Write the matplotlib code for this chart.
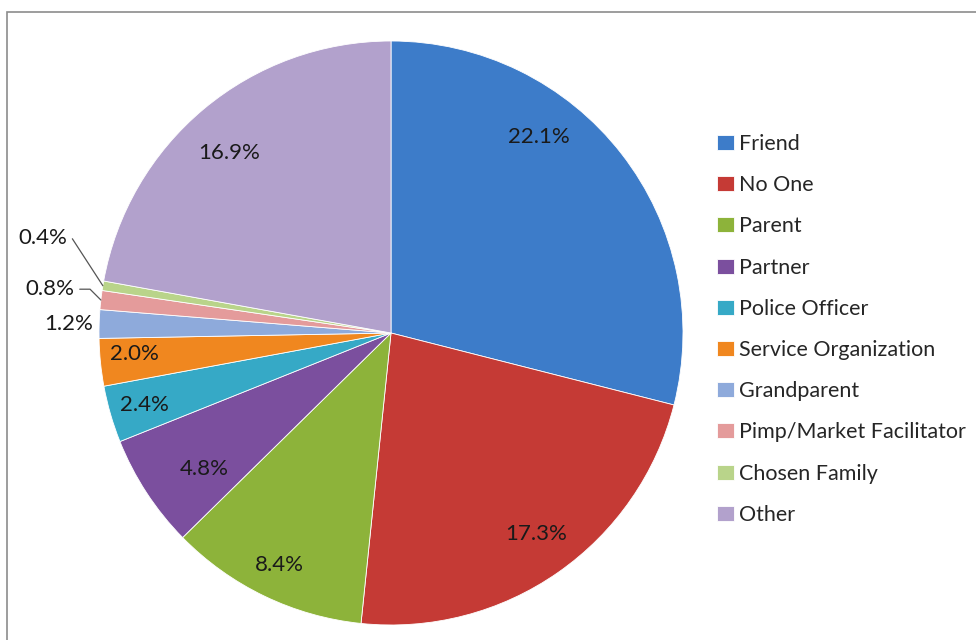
import numpy as np
import matplotlib.pyplot as plt
from matplotlib.patches import Rectangle

plt.rcParams['font.family'] = ['Lato', 'DejaVu Sans']

# data (percent of respondents)
categories = ['Friend', 'No One', 'Parent', 'Partner', 'Police Officer',
              'Service Organization', 'Grandparent', 'Pimp/Market Facilitator',
              'Chosen Family', 'Other']
values = [22.1, 17.3, 8.4, 4.8, 2.4, 2.0, 1.2, 0.8, 0.4, 16.9]
labels = ['22.1%', '17.3%', '8.4%', '4.8%', '2.4%', '2.0%', '1.2%', '0.8%', '0.4%', '16.9%']

colors = ['#3d7cc9', '#c53a35', '#8db33a', '#7b4f9e', '#36a9c6',
          '#f0871f', '#8eaadb', '#e49b9b', '#b9d48a', '#b2a1cc']

fig = plt.figure(figsize=(9.76, 6.4), dpi=100)
ax = fig.add_axes([(391 - 292) / 976, (640 - 333 - 292) / 640, 584 / 976, 584 / 640])

wedges, _ = ax.pie(values, colors=colors, startangle=90, counterclock=False,
                   wedgeprops=dict(edgecolor='white', linewidth=0.6))
ax.set_xlim(-1, 1)
ax.set_ylim(-1, 1)
ax.set_aspect('equal')

fs = 16

# inside labels: radius and small angle shift per slice
label_r = [0.84, 0.85, 0.88, 0.79, 0.88, 0.88, None, None, None, 0.83]
label_shift = [15, 1, 0, 3, 0, -1, 0, 0, 0, 2]
for i, w in enumerate(wedges):
    mid = np.deg2rad((w.theta1 + w.theta2) / 2 + label_shift[i])
    if label_r[i] is not None:
        ax.text(label_r[i] * np.cos(mid), label_r[i] * np.sin(mid), labels[i],
                ha='center', va='center', fontsize=fs, color='#1a1a1a')

# small slices: labels outside
mid = np.deg2rad((wedges[6].theta1 + wedges[6].theta2) / 2)
ax.text(1.02 * np.cos(mid), 1.02 * np.sin(mid), labels[6], ha='right', va='center',
        fontsize=fs, color='#1a1a1a')
outside = {7: ((-1.085, 0.15), 135), 8: ((-1.11, 0.325), 123)}
for i, (pos, angB) in outside.items():
    mid = np.deg2rad((wedges[i].theta1 + wedges[i].theta2) / 2)
    ax.annotate(labels[i], xy=(np.cos(mid), np.sin(mid)), xytext=pos,
                ha='right', va='center', fontsize=fs, color='#1a1a1a',
                arrowprops=dict(arrowstyle='-', color='#555555', lw=0.9,
                                shrinkA=2, shrinkB=0,
                                connectionstyle='angle,angleA=0,angleB=%d,rad=0' % angB))

fig.legend(wedges, categories, loc='upper left', bbox_to_anchor=(717 / 976, 1 - 134 / 640),
           frameon=False, fontsize=15.5, handlelength=0.78, handleheight=0.7,
           handletextpad=0.25, labelspacing=0.985, borderpad=0, borderaxespad=0,
           labelcolor='#262626')

# outer chart frame
fig.add_artist(Rectangle((7 / 976, -0.1), 1.1, 1.1 - 12 / 640, transform=fig.transFigure,
                         fill=False, edgecolor='#8c8c8c', linewidth=1.2, clip_on=False))

fig.savefig('out.png', dpi=100)
